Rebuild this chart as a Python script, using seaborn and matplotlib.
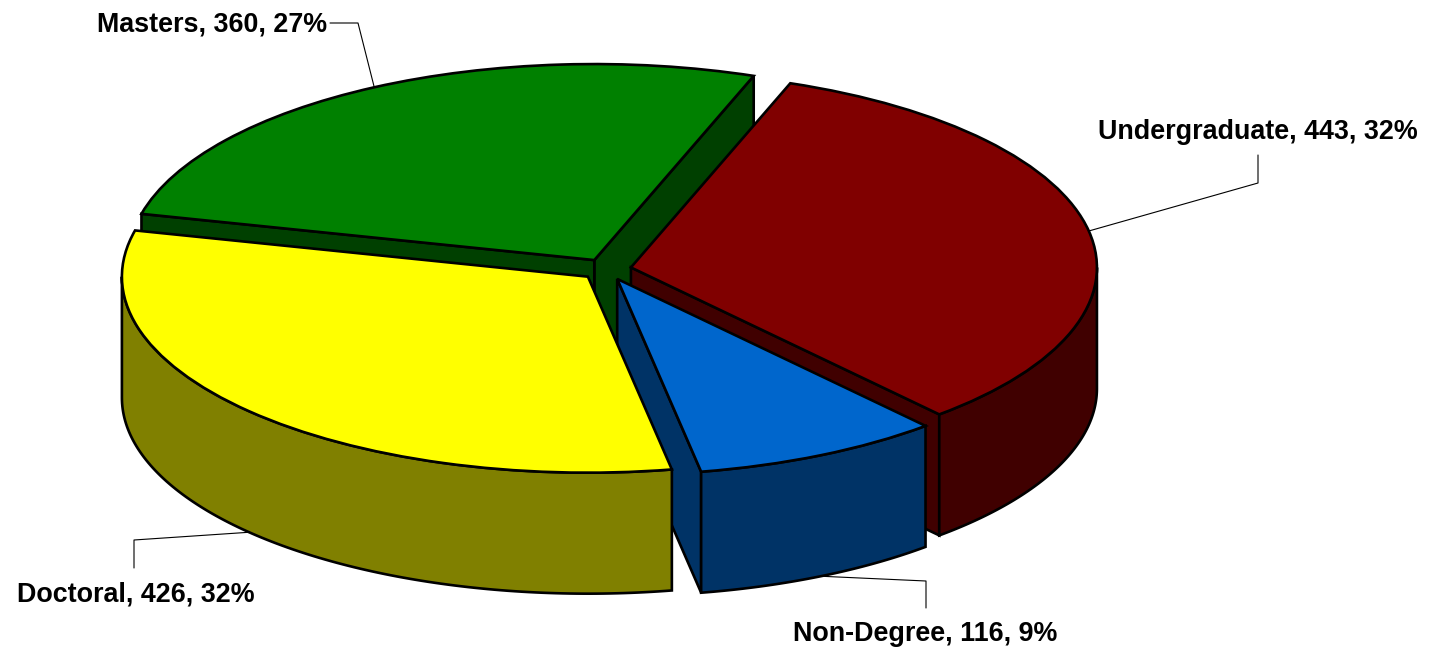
import numpy as np
import matplotlib
matplotlib.use("Agg")
import matplotlib.pyplot as plt
from matplotlib.patches import Polygon
import seaborn as sns

# ── data ─────────────────────────────────────────────
categories = ["Undergraduate", "Non-Degree", "Doctoral", "Masters"]
counts = [443, 116, 426, 360]
pct_labels = [32, 9, 32, 27]

top_colors = ["#800000", "#0066CC", "#FFFF00", "#008000"]
side_colors = ["#400000", "#003366", "#808000", "#004000"]

# ── layout (pixels of the 1435x649 canvas) ───────────
W, H = 1435, 649
px_x, px_y = 466.0, 196.0       # pixels per data unit (ellipse squash)
cx_px, cy_px = 606.2, 269.4     # pie centre in pixels
depth = 121 / px_y              # thickness of the pie in y data units
explode = 0.054
lw = 1.9

# draw order back -> front (index into categories)
draw_order = [3, 0, 1, 2]

# label anchor (pixel x, baseline y, ha) and leader elbow points (pixels)
label_pos = {
    "Masters": (327, 32, "right", [(330, 23), (358, 23)]),
    "Undergraduate": (1098, 139, "left", [(1258, 155), (1258, 183)]),
    "Doctoral": (17, 601, "left", [(134, 568), (134, 540)]),
    "Non-Degree": (793, 641, "left", [(926, 608), (926, 581)]),
}

sns.set_style("white")
plt.rcParams["font.family"] = ["Liberation Sans", "DejaVu Sans"]

fig = plt.figure(figsize=(W / 100, H / 100), dpi=100)
ax = fig.add_axes([0, 0, 1, 1])

wedges, _ = ax.pie(
    counts,
    colors=top_colors,
    startangle=70,
    counterclock=False,
    explode=[explode] * len(counts),
    radius=1.0,
    wedgeprops=dict(edgecolor="black", linewidth=lw),
)

ax.set_aspect("auto")
ax.set_xlim(-cx_px / px_x, (W - cx_px) / px_x)
ax.set_ylim(-(H - cy_px) / px_y, cy_px / px_y)
ax.axis("off")


def rim(center, r, ang):
    a = np.deg2rad(ang)
    return center[0] + r * np.cos(a), center[1] + r * np.sin(a)


for rank, i in enumerate(draw_order):
    w = wedges[i]
    c, r, t1, t2 = w.center, w.r, w.theta1, w.theta2
    z = 1 + rank * 3
    sc = side_colors[i]
    faces = []
    # radial faces that point towards the viewer
    if np.cos(np.deg2rad(t1)) > 0:
        faces.append(t1)
    if np.cos(np.deg2rad(t2)) < 0:
        faces.append(t2)
    for ang in faces:
        ex, ey = rim(c, r, ang)
        pts = [(c[0], c[1]), (ex, ey), (ex, ey - depth), (c[0], c[1] - depth)]
        ax.add_patch(Polygon(pts, closed=True, facecolor=sc, edgecolor="black",
                             linewidth=lw, zorder=z))
    # outer wall on the front half
    for k in (-1, 0, 1):
        a0, a1 = max(t1, -180 + 360 * k), min(t2, 360 * k)
        if a1 - a0 > 0.01:
            angs = np.deg2rad(np.linspace(a0, a1, 120))
            xs = c[0] + r * np.cos(angs)
            ys = c[1] + r * np.sin(angs)
            pts = np.column_stack([np.r_[xs, xs[::-1]], np.r_[ys, ys[::-1] - depth]])
            ax.add_patch(Polygon(pts, closed=True, facecolor=sc, edgecolor="black",
                                 linewidth=lw, zorder=z + 1))
    w.set_zorder(z + 2)

# ── labels with leader lines ────────────────────────
inv = ax.transData.inverted()


def to_data(p):
    return inv.transform((p[0], H - p[1]))


for i, name in enumerate(categories):
    w = wedges[i]
    mid = 0.5 * (w.theta1 + w.theta2)
    ex, ey = rim(w.center, w.r, mid)
    if np.sin(np.deg2rad(mid)) < 0:
        ey -= depth
    tx, ty, ha, elbow = label_pos[name]
    pts = [to_data(p) for p in elbow] + [(ex, ey)]
    pts = np.array(pts)
    ax.plot(pts[:, 0], pts[:, 1], color="black", linewidth=0.8, zorder=20)
    lx, ly = to_data((tx, ty))
    ax.text(lx, ly, f"{name}, {counts[i]}, {pct_labels[i]}%", ha=ha, va="baseline",
            fontsize=19.4, fontweight="bold", color="black", zorder=21)

fig.savefig("out.png", dpi=100, facecolor="white")
